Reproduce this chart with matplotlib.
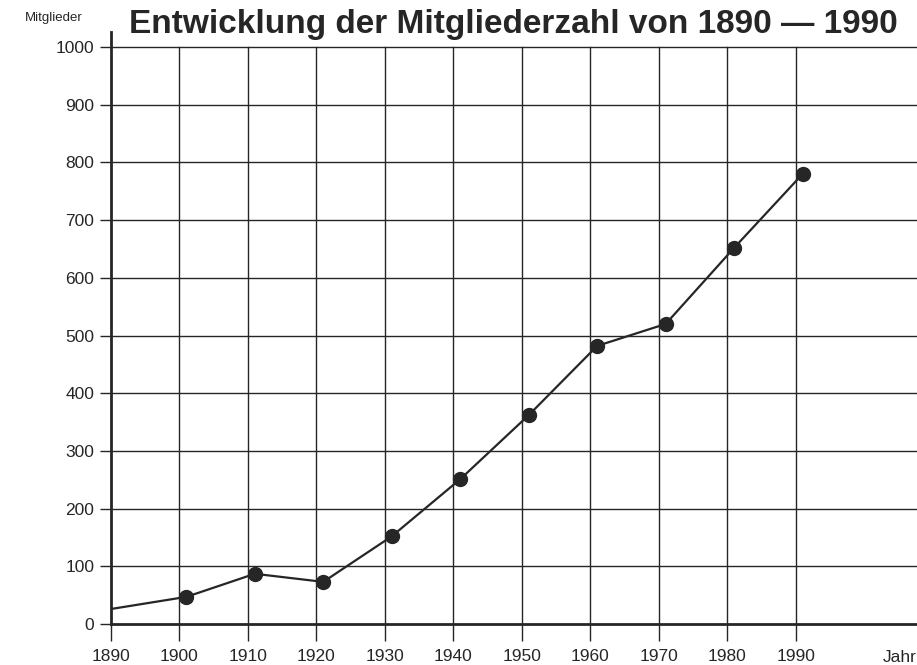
import matplotlib
matplotlib.use("Agg")
import matplotlib.pyplot as plt

# Mitgliederzahl
start_year = [1890]
start_value = [26]
years = [1901, 1911, 1921, 1931, 1941, 1951, 1961, 1971, 1981, 1991]
members = [47, 87, 73, 152, 251, 362, 482, 520, 652, 780]
x_ticks = [1890, 1900, 1910, 1920, 1930, 1940, 1950, 1960, 1970, 1980, 1990]
y_ticks = [0, 100, 200, 300, 400, 500, 600, 700, 800, 900, 1000]

plt.rcParams["font.family"] = ["Liberation Sans", "DejaVu Sans"]
ink = "#262626"

fig = plt.figure(figsize=(9.17, 6.65), dpi=100)
ax = fig.add_axes([111 / 917, 41 / 665, 1 - 111 / 917, (624 - 32) / 665])
ax.set_xlim(1890, 2007.7)
ax.set_ylim(0, 1026)

for x in x_ticks[1:]:
    ax.plot([x, x], [0, 1000], color=ink, lw=1.0, zorder=1)
for y in y_ticks[1:]:
    ax.axhline(y, color=ink, lw=1.0, zorder=1)

ax.plot(start_year + years, start_value + members, color=ink, lw=1.6, zorder=2)
ax.plot(years, members, "o", color=ink, ms=10, zorder=3)

for s in ["top", "right"]:
    ax.spines[s].set_visible(False)
ax.spines["left"].set_linewidth(2)
ax.spines["bottom"].set_linewidth(2)
ax.spines["left"].set_color(ink)
ax.spines["bottom"].set_color(ink)

ax.set_xticks(x_ticks)
ax.set_xticklabels([str(v) for v in x_ticks])
ax.set_yticks(y_ticks)
ax.set_yticklabels([str(v) for v in y_ticks])
ax.tick_params(axis="x", length=12, width=1.0, color=ink, pad=6, labelsize=12.5, labelcolor=ink)
ax.tick_params(axis="y", length=8, width=1.0, color=ink, pad=4, labelsize=12.5, labelcolor=ink)

fig.text(25 / 917, 1 - 18 / 665, "Mitglieder", fontsize=9.5, color=ink, va="center", ha="left")
fig.text(883 / 917, 1 - 657 / 665, "Jahr", fontsize=12.5, color=ink, va="center", ha="left")
fig.text(513 / 917, 1 - 25 / 665, "Entwicklung der Mitgliederzahl von 1890 \u2014 1990",
         fontsize=24, fontweight="bold", color=ink, ha="center", va="center")

fig.savefig("out.png", dpi=100)
